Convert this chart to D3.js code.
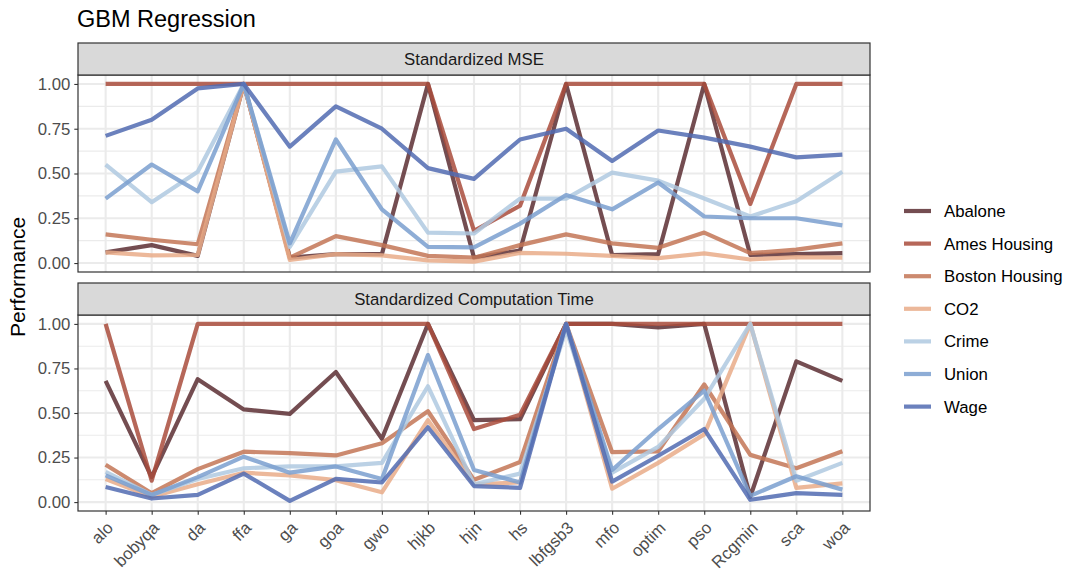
<!DOCTYPE html>
<html>
<head>
<meta charset="utf-8">
<script src="https://cdn.jsdelivr.net/npm/d3@7"></script>
<style>
  body { margin: 0; background: #fff; }
  text { font-family: "Liberation Sans", Arial, sans-serif; }
</style>
</head>
<body>
<div id="chart"></div>
<script>
const width = 1068;
const height = 571;

// categories (optimizers) and datasets
const optimizers = ["alo", "bobyqa", "da", "ffa", "ga", "goa", "gwo", "hjkb", "hjn", "hs",
  "lbfgsb3", "mfo", "optim", "pso", "Rcgmin", "sca", "woa"];
const datasets = ["Abalone", "Ames Housing", "Boston Housing", "CO2", "Crime", "Union", "Wage"];
const colors = ["#5C2E32", "#A94C3C", "#C37656", "#E9AC88", "#AFC9E1", "#7A9FCF", "#516BB1"];
const panels = ["Standardized MSE", "Standardized Computation Time"];
const yTicks = [0, 0.25, 0.5, 0.75, 1];

// Standardized MSE, one array per dataset
const mseAbalone = [0.06, 0.10, 0.04, 1.00, 0.03, 0.05, 0.05, 1.00, 0.03, 0.07, 1.00, 0.045, 0.05, 1.00, 0.045, 0.05, 0.055];
const mseAmes    = [1.00, 1.00, 1.00, 1.00, 1.00, 1.00, 1.00, 1.00, 0.18, 0.32, 1.00, 1.00, 1.00, 1.00, 0.33, 1.00, 1.00];
const mseBoston  = [0.16, 0.13, 0.105, 1.00, 0.03, 0.15, 0.10, 0.04, 0.03, 0.10, 0.16, 0.11, 0.085, 0.17, 0.055, 0.075, 0.11];
const mseCO2     = [0.06, 0.043, 0.045, 1.00, 0.017, 0.05, 0.043, 0.015, 0.008, 0.057, 0.052, 0.04, 0.027, 0.054, 0.02, 0.033, 0.03];
const mseCrime   = [0.55, 0.34, 0.51, 1.00, 0.09, 0.51, 0.54, 0.17, 0.165, 0.36, 0.36, 0.505, 0.46, 0.36, 0.26, 0.345, 0.51];
const mseUnion   = [0.36, 0.55, 0.40, 1.00, 0.11, 0.69, 0.30, 0.09, 0.087, 0.22, 0.38, 0.30, 0.45, 0.26, 0.25, 0.25, 0.21];
const mseWage    = [0.71, 0.80, 0.975, 1.00, 0.65, 0.875, 0.75, 0.53, 0.47, 0.69, 0.75, 0.57, 0.74, 0.70, 0.65, 0.59, 0.605];

// Standardized computation time
const timeAbalone = [0.68, 0.14, 0.69, 0.52, 0.495, 0.73, 0.355, 1.00, 0.46, 0.465, 1.00, 1.00, 0.98, 1.00, 0.03, 0.79, 0.68];
const timeAmes    = [1.00, 0.12, 1.00, 1.00, 1.00, 1.00, 1.00, 1.00, 0.41, 0.49, 1.00, 1.00, 1.00, 1.00, 1.00, 1.00, 1.00];
const timeBoston  = [0.21, 0.05, 0.185, 0.283, 0.275, 0.262, 0.33, 0.51, 0.125, 0.225, 1.00, 0.28, 0.285, 0.66, 0.265, 0.19, 0.285];
const timeCO2     = [0.13, 0.03, 0.10, 0.165, 0.15, 0.123, 0.055, 0.46, 0.10, 0.11, 1.00, 0.075, 0.22, 0.38, 1.00, 0.08, 0.105];
const timeCrime   = [0.17, 0.04, 0.13, 0.19, 0.20, 0.20, 0.22, 0.65, 0.10, 0.16, 0.97, 0.165, 0.31, 0.58, 1.00, 0.12, 0.22];
const timeUnion   = [0.15, 0.04, 0.14, 0.255, 0.165, 0.20, 0.13, 0.825, 0.18, 0.11, 1.00, 0.18, 0.41, 0.625, 0.035, 0.145, 0.07];
const timeWage    = [0.085, 0.02, 0.04, 0.16, 0.007, 0.13, 0.11, 0.42, 0.09, 0.08, 1.00, 0.115, 0.26, 0.41, 0.013, 0.05, 0.04];

const panelData = [
  [mseAbalone, mseAmes, mseBoston, mseCO2, mseCrime, mseUnion, mseWage],
  [timeAbalone, timeAmes, timeBoston, timeCO2, timeCrime, timeUnion, timeWage]
];

const plotLeft = 78, plotRight = 870;
const panelBoxes = [
  { strip: 43, top: 75, bottom: 272 },
  { strip: 283, top: 315, bottom: 511 }
];
const fontFam = "'Liberation Sans', Arial, sans-serif";

const svg = d3.select("#chart").append("svg")
  .attr("width", width)
  .attr("height", height);

svg.append("rect").attr("width", width).attr("height", height).attr("fill", "#fff");

svg.append("text")
  .attr("x", plotLeft - 1).attr("y", 27)
  .attr("font-size", 23.5)
  .attr("fill", "#000")
  .text("GBM Regression");

// discrete x with ggplot's 0.6 expansion
const x = d3.scalePoint().domain(optimizers)
  .range([plotLeft, plotRight]).padding(0.6);

const line = d3.line();

panelBoxes.forEach((box, p) => {
  const y = d3.scaleLinear().domain([-0.05, 1.05]).range([box.bottom, box.top]);

  const g = svg.append("g");

  // grid: minor then major
  g.selectAll(".minor").data([0.125, 0.375, 0.625, 0.875]).enter().append("line")
    .attr("x1", plotLeft).attr("x2", plotRight)
    .attr("y1", d => y(d)).attr("y2", d => y(d))
    .attr("stroke", "#EBEBEB").attr("stroke-width", 1.1);
  g.selectAll(".major").data(yTicks).enter().append("line")
    .attr("x1", plotLeft).attr("x2", plotRight)
    .attr("y1", d => y(d)).attr("y2", d => y(d))
    .attr("stroke", "#EBEBEB").attr("stroke-width", 2.1);
  g.selectAll(".vmajor").data(optimizers).enter().append("line")
    .attr("x1", d => x(d)).attr("x2", d => x(d))
    .attr("y1", box.top).attr("y2", box.bottom)
    .attr("stroke", "#EBEBEB").attr("stroke-width", 2.1);

  // series
  panelData[p].forEach((vals, i) => {
    g.append("path")
      .attr("d", line(vals.map((v, j) => [x(optimizers[j]), y(v)])))
      .attr("fill", "none")
      .attr("stroke", colors[i])
      .attr("stroke-opacity", 0.85)
      .attr("stroke-width", 4.2)
      .attr("stroke-linejoin", "round");
  });

  // panel border
  g.append("rect")
    .attr("x", plotLeft).attr("y", box.top)
    .attr("width", plotRight - plotLeft).attr("height", box.bottom - box.top)
    .attr("fill", "none").attr("stroke", "#333333").attr("stroke-width", 1.2);

  // strip
  g.append("rect")
    .attr("x", plotLeft).attr("y", box.strip)
    .attr("width", plotRight - plotLeft).attr("height", box.top - box.strip)
    .attr("fill", "#D9D9D9").attr("stroke", "#333333").attr("stroke-width", 1.2);
  g.append("text")
    .attr("x", (plotLeft + plotRight) / 2).attr("y", (box.strip + box.top) / 2 + 6)
    .attr("text-anchor", "middle").attr("font-size", 16.8).attr("fill", "#1A1A1A")
    .text(panels[p]);

  // y axis
  const yAxis = d3.axisLeft(y).tickValues(yTicks).tickSize(3.7).tickPadding(4)
    .tickFormat(d3.format(".2f"));
  const ya = g.append("g").attr("transform", `translate(${plotLeft},0)`).call(yAxis);
  ya.select(".domain").remove();
  ya.selectAll("line").attr("stroke", "#333333").attr("stroke-width", 1.1);
  ya.selectAll("text").attr("font-size", 16.8).attr("fill", "#4D4D4D")
    .style("font-family", fontFam);

  if (p === 1) {
    const xAxis = d3.axisBottom(x).tickSize(3.7).tickPadding(3);
    const xa = g.append("g").attr("transform", `translate(0,${box.bottom})`).call(xAxis);
    xa.select(".domain").remove();
    xa.selectAll("line").attr("stroke", "#333333").attr("stroke-width", 1.1);
    xa.selectAll("text")
      .attr("font-size", 16.8).attr("fill", "#4D4D4D")
      .style("font-family", fontFam)
      .attr("text-anchor", "end")
      .attr("dy", null)
      .attr("transform", "translate(8,18) rotate(-45)")
      .attr("y", 0).attr("x", 0);
  }
});

// y axis title
svg.append("text")
  .attr("transform", `translate(25,${(panelBoxes[0].strip + panelBoxes[1].bottom) / 2}) rotate(-90)`)
  .attr("text-anchor", "middle").attr("font-size", 21).attr("fill", "#000")
  .text("Performance");

// legend
const legend = svg.append("g").attr("transform", "translate(904,211)");
datasets.forEach((name, i) => {
  const row = legend.append("g").attr("transform", `translate(0,${i * 32.6})`);
  row.append("line").attr("x1", 0).attr("x2", 27).attr("y1", 0).attr("y2", 0)
    .attr("stroke", colors[i]).attr("stroke-opacity", 0.85).attr("stroke-width", 4.2);
  row.append("text").attr("x", 40).attr("y", 6).attr("font-size", 16.8).attr("fill", "#000")
    .text(name);
});
</script>
</body>
</html>
